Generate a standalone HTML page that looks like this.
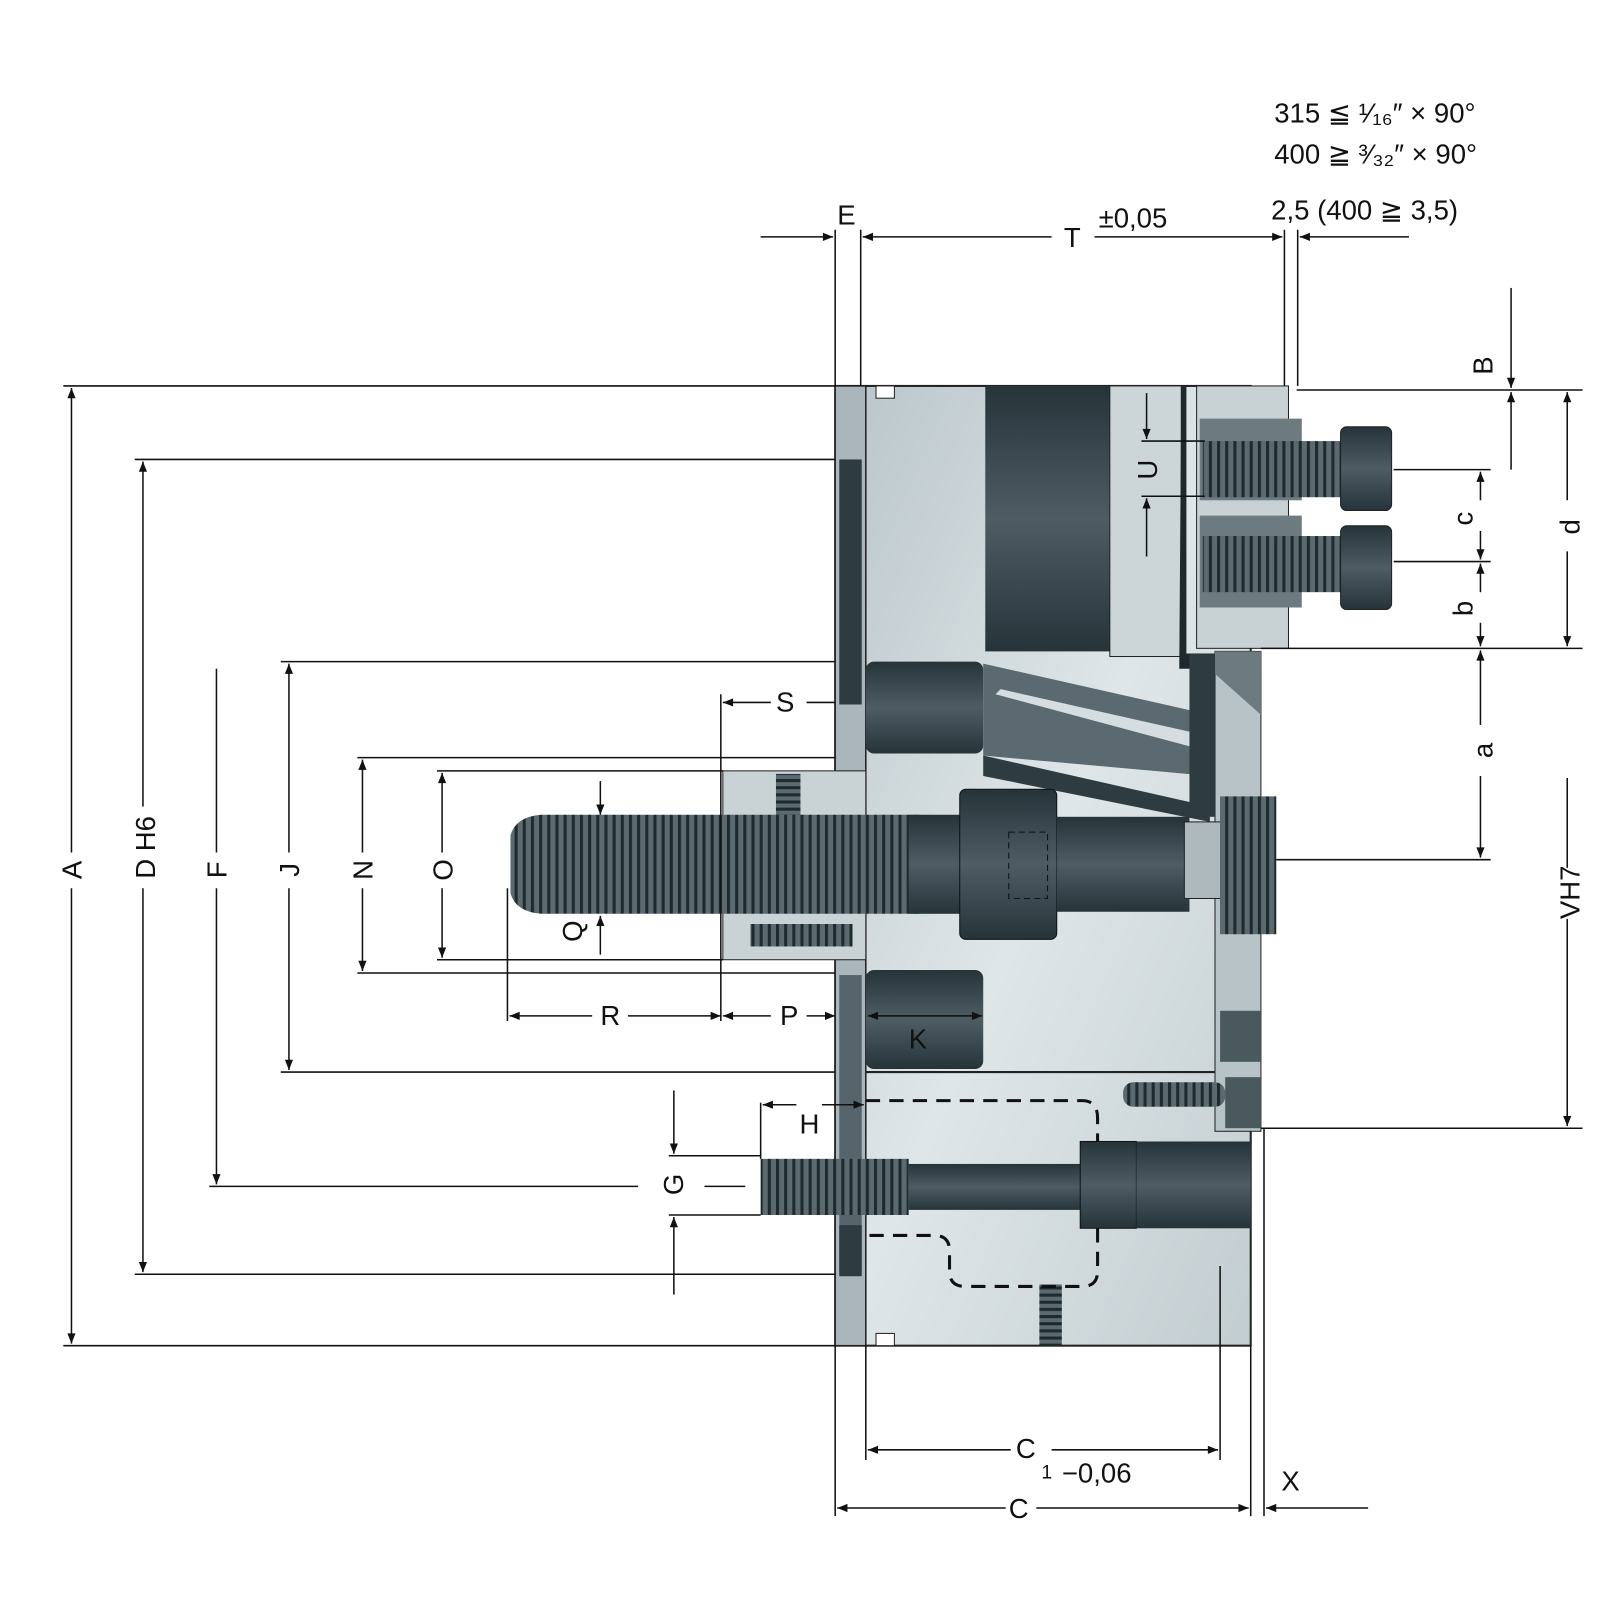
<!DOCTYPE html>
<html><head><meta charset="utf-8"><style>
html,body{margin:0;padding:0;background:#fff;width:1600px;height:1600px;overflow:hidden}
svg text{font-family:"Liberation Sans",sans-serif;fill:#111}
</style></head><body>
<svg width="1600" height="1600" viewBox="0 0 1600 1600" xmlns="http://www.w3.org/2000/svg">
<defs>
<marker id="ar" viewBox="0 0 10 10" refX="10" refY="5" markerWidth="14" markerHeight="10" orient="auto-start-reverse" markerUnits="userSpaceOnUse"><path d="M0,1 L10,5 L0,9 z" fill="#111"/></marker>
<linearGradient id="lt" x1="0" y1="0" x2="1" y2="1"><stop offset="0" stop-color="#b9c5ca"/><stop offset=".5" stop-color="#dfe6e8"/><stop offset="1" stop-color="#c2cdd1"/></linearGradient>
<linearGradient id="dk" x1="0" y1="0" x2="0" y2="1"><stop offset="0" stop-color="#26343a"/><stop offset=".5" stop-color="#4d5d63"/><stop offset="1" stop-color="#26343a"/></linearGradient>
<pattern id="th" width="8" height="10" patternUnits="userSpaceOnUse"><rect width="8" height="10" fill="#5b6a70"/><rect width="3" height="10" fill="#1f2a2e"/></pattern>
<pattern id="thv" width="10" height="7" patternUnits="userSpaceOnUse"><rect width="10" height="7" fill="#5b6a70"/><rect width="10" height="3" fill="#1f2a2e"/></pattern>
</defs>
<g transform="scale(1.021)">
<rect x="818" y="378" width="407" height="940" fill="url(#lt)" stroke="#222" stroke-width="2"/>
<rect x="818" y="378" width="30" height="940" fill="#aab6bb" stroke="#222" stroke-width="1.5"/>
<rect x="822" y="450" width="22" height="240" fill="#2e3b40"/>
<rect x="822" y="955" width="22" height="290" fill="#55656b"/>
<rect x="822" y="1200" width="22" height="50" fill="#2e3b40"/>
<rect x="858" y="378" width="18" height="12" fill="#fff" stroke="#222"/>
<rect x="858" y="1306" width="18" height="12" fill="#fff" stroke="#222"/>
<rect x="965" y="378" width="122" height="260" fill="url(#dk)"/>
<rect x="1087" y="378" width="70" height="265" fill="#ccd6d9" stroke="#222"/>
<path d="M1157 378 L1162 378 L1162 640 L1190 640 L1190 655 L1155 655 Z" fill="#1e292d"/>
<rect x="1172" y="378" width="90" height="257" fill="#c8d2d5" stroke="#222"/>
<rect x="1175" y="410" width="100" height="80" fill="#6d7b80"/>
<rect x="1175" y="505" width="100" height="90" fill="#6d7b80"/>
<rect x="1178" y="432" width="135" height="55" fill="url(#th)"/>
<rect x="1313" y="418" width="50" height="82" rx="6" fill="url(#dk)" stroke="#222"/>
<rect x="1178" y="525" width="135" height="55" fill="url(#th)"/>
<rect x="1313" y="515" width="50" height="82" rx="6" fill="url(#dk)" stroke="#222"/>
<rect x="1190" y="638" width="45" height="470" fill="#b7c3c7" stroke="#222"/>
<path d="M1190 660 L1235 700 L1235 638 L1190 638Z" fill="#6d7b80"/>
<rect x="848" y="648" width="115" height="90" rx="8" fill="url(#dk)"/>
<path d="M963 650 L1185 700 L1185 760 L963 740 Z" fill="#5a6a70"/>
<path d="M975 680 L1180 735 L1180 720 L980 675Z" fill="#d5dde0"/>
<path d="M963 740 L1185 790 L1185 805 L963 760Z" fill="#2e3b40"/>
<rect x="1165" y="640" width="25" height="160" fill="#2e3b40"/>
<rect x="708" y="755" width="140" height="185" fill="#c9d3d6" stroke="#222"/>
<rect x="760" y="758" width="24" height="50" fill="url(#thv)"/>
<rect x="735" y="905" width="100" height="22" fill="url(#th)"/>
<path d="M500 818 Q505 800 530 798 L900 798 L900 895 L530 895 Q505 893 500 875 Z" fill="url(#th)"/>
<rect x="890" y="798" width="60" height="97" fill="url(#dk)"/>
<rect x="940" y="773" width="95" height="147" rx="6" fill="url(#dk)" stroke="#111"/>
<rect x="1035" y="800" width="130" height="93" fill="url(#dk)"/>
<rect x="1160" y="805" width="40" height="75" fill="#aeb9bd" stroke="#222"/>
<rect x="1195" y="780" width="55" height="135" fill="url(#th)"/>
<rect x="988" y="815" width="38" height="65" fill="none" stroke="#111" stroke-dasharray="6 4"/>
<rect x="848" y="950" width="115" height="97" rx="8" fill="url(#dk)"/>
<line x1="848" y1="1050" x2="1190" y2="1050" stroke="#222" stroke-width="2"/>
<rect x="1195" y="990" width="40" height="50" fill="#4a595e"/>
<rect x="1200" y="1055" width="35" height="50" fill="#4a595e"/>
<rect x="1100" y="1060" width="100" height="24" rx="10" fill="url(#th)"/>
<rect x="745" y="1135" width="145" height="55" fill="url(#th)"/>
<rect x="890" y="1140" width="170" height="45" fill="url(#dk)"/>
<rect x="1058" y="1118" width="55" height="85" fill="url(#dk)" stroke="#111"/>
<rect x="1113" y="1118" width="112" height="85" fill="url(#dk)"/>
<rect x="1018" y="1258" width="22" height="60" fill="url(#thv)"/>
<path d="M848 1078 L1060 1078 Q1075 1078 1075 1095 L1075 1118 M1075 1203 L1075 1245 Q1075 1260 1060 1260 L945 1260 Q930 1260 930 1245 L930 1225 Q930 1210 915 1210 L848 1210" fill="none" stroke="#111" stroke-width="3" stroke-dasharray="14 9"/>
<g stroke="#111" stroke-width="1.5" fill="none">
<line x1="62" y1="378" x2="818" y2="378"/>
<line x1="62" y1="1318" x2="818" y2="1318"/>
<line x1="70" y1="380" x2="70" y2="835" marker-start="url(#ar)"/>
<line x1="70" y1="870" x2="70" y2="1316" marker-end="url(#ar)"/>
<line x1="132" y1="450" x2="818" y2="450"/>
<line x1="132" y1="1248" x2="818" y2="1248"/>
<line x1="140" y1="452" x2="140" y2="790" marker-start="url(#ar)"/>
<line x1="140" y1="870" x2="140" y2="1246" marker-end="url(#ar)"/>
<line x1="205" y1="1162" x2="625" y2="1162"/><line x1="690" y1="1162" x2="730" y2="1162"/>
<line x1="212" y1="655" x2="212" y2="835"/>
<line x1="212" y1="870" x2="212" y2="1160" marker-end="url(#ar)"/>
<line x1="275" y1="648" x2="818" y2="648"/>
<line x1="275" y1="1050" x2="818" y2="1050"/>
<line x1="283" y1="650" x2="283" y2="835" marker-start="url(#ar)"/>
<line x1="283" y1="870" x2="283" y2="1048" marker-end="url(#ar)"/>
<line x1="350" y1="742" x2="818" y2="742"/>
<line x1="350" y1="953" x2="818" y2="953"/>
<line x1="355" y1="744" x2="355" y2="835" marker-start="url(#ar)"/>
<line x1="355" y1="870" x2="355" y2="951" marker-end="url(#ar)"/>
<line x1="428" y1="755" x2="708" y2="755"/>
<line x1="428" y1="940" x2="708" y2="940"/>
<line x1="433" y1="757" x2="433" y2="835" marker-start="url(#ar)"/>
<line x1="433" y1="870" x2="433" y2="938" marker-end="url(#ar)"/>
<line x1="588" y1="765" x2="588" y2="798" marker-end="url(#ar)"/>
<line x1="588" y1="935" x2="588" y2="897" marker-end="url(#ar)"/>
<line x1="497" y1="870" x2="497" y2="1000"/>
<line x1="499" y1="995" x2="580" y2="995" marker-start="url(#ar)"/>
<line x1="615" y1="995" x2="706" y2="995" marker-end="url(#ar)"/>
<line x1="706" y1="680" x2="706" y2="1000"/>
<line x1="708" y1="995" x2="755" y2="995" marker-start="url(#ar)"/>
<line x1="790" y1="995" x2="818" y2="995" marker-end="url(#ar)"/>
<line x1="708" y1="688" x2="755" y2="688" marker-start="url(#ar)"/>
<line x1="790" y1="688" x2="818" y2="688"/>
<line x1="850" y1="995" x2="962" y2="995" marker-start="url(#ar)" marker-end="url(#ar)"/>
<line x1="745" y1="1080" x2="745" y2="1135"/>
<line x1="747" y1="1082" x2="780" y2="1082" marker-start="url(#ar)"/>
<line x1="805" y1="1082" x2="846" y2="1082" marker-end="url(#ar)"/>
<line x1="655" y1="1132" x2="745" y2="1132"/>
<line x1="655" y1="1190" x2="745" y2="1190"/>
<line x1="660" y1="1068" x2="660" y2="1130" marker-end="url(#ar)"/>
<line x1="660" y1="1268" x2="660" y2="1192" marker-end="url(#ar)"/>
<line x1="818" y1="225" x2="818" y2="378"/>
<line x1="843" y1="225" x2="843" y2="378"/>
<line x1="1258" y1="225" x2="1258" y2="378"/>
<line x1="1271" y1="225" x2="1271" y2="378"/>
<line x1="745" y1="232" x2="816" y2="232" marker-end="url(#ar)"/>
<line x1="845" y1="232" x2="1030" y2="232" marker-start="url(#ar)"/>
<line x1="1072" y1="232" x2="1256" y2="232" marker-end="url(#ar)"/>
<line x1="1380" y1="232" x2="1273" y2="232" marker-end="url(#ar)"/>
<line x1="1270" y1="382" x2="1550" y2="382"/>
<line x1="1235" y1="635" x2="1550" y2="635"/>
<line x1="1480" y1="282" x2="1480" y2="380" marker-end="url(#ar)"/>
<line x1="1480" y1="460" x2="1480" y2="384" marker-end="url(#ar)"/>
<line x1="1535" y1="384" x2="1535" y2="490" marker-start="url(#ar)"/>
<line x1="1535" y1="540" x2="1535" y2="633" marker-end="url(#ar)"/>
<line x1="1365" y1="460" x2="1460" y2="460"/>
<line x1="1365" y1="550" x2="1460" y2="550"/>
<line x1="1450" y1="462" x2="1450" y2="490" marker-start="url(#ar)"/>
<line x1="1450" y1="520" x2="1450" y2="548" marker-end="url(#ar)"/>
<line x1="1450" y1="552" x2="1450" y2="580" marker-start="url(#ar)"/>
<line x1="1450" y1="610" x2="1450" y2="633" marker-end="url(#ar)"/>
<line x1="1450" y1="637" x2="1450" y2="710" marker-start="url(#ar)"/>
<line x1="1450" y1="760" x2="1450" y2="840" marker-end="url(#ar)"/>
<line x1="1250" y1="842" x2="1460" y2="842"/>
<line x1="1235" y1="1105" x2="1550" y2="1105"/>
<line x1="1535" y1="762" x2="1535" y2="850"/>
<line x1="1535" y1="900" x2="1535" y2="1103" marker-end="url(#ar)"/>
<line x1="1123" y1="385" x2="1123" y2="430" marker-end="url(#ar)"/>
<line x1="1123" y1="545" x2="1123" y2="488" marker-end="url(#ar)"/>
<line x1="1118" y1="432" x2="1180" y2="432"/>
<line x1="1118" y1="486" x2="1180" y2="486"/>
<line x1="818" y1="1318" x2="818" y2="1485"/>
<line x1="848" y1="1318" x2="848" y2="1430"/>
<line x1="1195" y1="1240" x2="1195" y2="1430"/>
<line x1="1225" y1="1318" x2="1225" y2="1485"/>
<line x1="1238" y1="1105" x2="1238" y2="1485"/>
<line x1="850" y1="1420" x2="990" y2="1420" marker-start="url(#ar)"/>
<line x1="1030" y1="1420" x2="1193" y2="1420" marker-end="url(#ar)"/>
<line x1="820" y1="1477" x2="985" y2="1477" marker-start="url(#ar)"/>
<line x1="1015" y1="1477" x2="1223" y2="1477" marker-end="url(#ar)"/>
<line x1="1340" y1="1477" x2="1240" y2="1477" marker-end="url(#ar)"/>
</g>
<g font-size="27">
<text x="1248" y="120">315 ≦ ¹⁄₁₆″ × 90°</text>
<text x="1248" y="160">400 ≧ ³⁄₃₂″ × 90°</text>
<text x="1245" y="215">2,5 (400 ≧ 3,5)</text>
<text x="1076" y="223">±0,05</text>
<text x="1042" y="242">T</text>
<text x="820" y="220">E</text>
<text x="760" y="697">S</text>
<text x="588" y="1004">R</text>
<text x="764" y="1004">P</text>
<text x="890" y="1027">K</text>
<text x="783" y="1110">H</text>
<text x="995" y="1428">C</text><text x="1020" y="1448" font-size="19">1</text>
<text x="1040" y="1452">−0,06</text>
<text x="988" y="1487">C</text>
<text x="1255" y="1460">X</text>
</g>
<g font-size="27">
<text transform="translate(80,852) rotate(-90)" text-anchor="middle">A</text>
<text transform="translate(152,830) rotate(-90)" text-anchor="middle">D H6</text>
<text transform="translate(222,852) rotate(-90)" text-anchor="middle">F</text>
<text transform="translate(293,852) rotate(-90)" text-anchor="middle">J</text>
<text transform="translate(365,852) rotate(-90)" text-anchor="middle">N</text>
<text transform="translate(443,852) rotate(-90)" text-anchor="middle">O</text>
<text transform="translate(570,912) rotate(-90)" text-anchor="middle">Q</text>
<text transform="translate(669,1160) rotate(-90)" text-anchor="middle">G</text>
<text transform="translate(1133,460) rotate(-90)" text-anchor="middle">U</text>
<text transform="translate(1462,358) rotate(-90)" text-anchor="middle">B</text>
<text transform="translate(1442,508) rotate(-90)" text-anchor="middle">c</text>
<text transform="translate(1442,596) rotate(-90)" text-anchor="middle">b</text>
<text transform="translate(1462,735) rotate(-90)" text-anchor="middle">a</text>
<text transform="translate(1547,516) rotate(-90)" text-anchor="middle">d</text>
<text transform="translate(1547,874) rotate(-90)" text-anchor="middle">VH7</text>
</g>
</g>
</svg>
</body></html>
